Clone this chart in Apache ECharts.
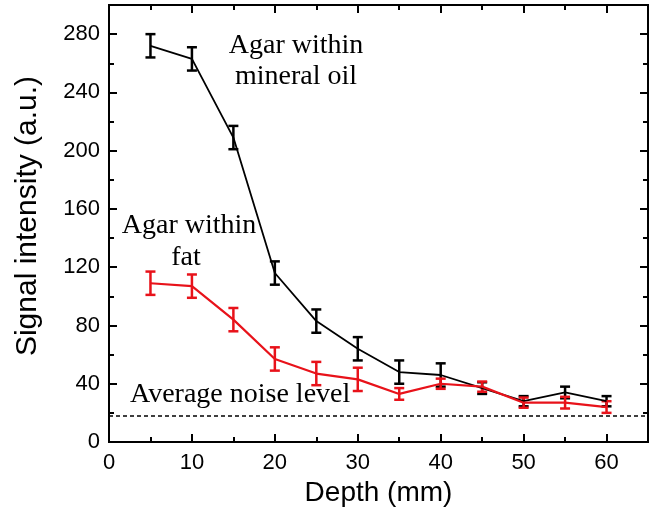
<!DOCTYPE html>
<html>
<head>
<meta charset="utf-8">
<script src="https://cdn.jsdelivr.net/npm/echarts@6/dist/echarts.min.js"></script>
<style>
  html, body { margin: 0; padding: 0; background: #fff; }
  #main { width: 655px; height: 512px; }
</style>
</head>
<body>
<div id="main"></div>
<script>
// depth (mm)
var depths = [5, 10, 15, 20, 25, 30, 35, 40, 45, 50, 55, 60];
// agar within mineral oil
var oilMean = [272, 263, 209, 116, 83, 64, 48, 46, 37, 28, 34, 28];
var oilErr = [8, 8, 8, 8, 8, 8, 8, 8, 4, 3.5, 4, 3.5];
// agar within fat
var fatMean = [109, 107, 84, 57, 47, 43, 33, 40, 38, 27, 27, 24];
var fatErr = [8, 8, 8, 8, 8, 8, 4, 3.5, 3.5, 3.5, 4, 4];
var noiseLevel = 18;

var RED = '#e8121a';
var SANS = 'Liberation Sans, Arial, sans-serif';
var SERIF = 'Liberation Serif, Times New Roman, serif';

function pairs(ys) {
    return depths.map(function (x, i) { return [x, ys[i]]; });
}

function errData(ys, errs) {
    return depths.map(function (x, i) { return [x, ys[i] - errs[i], ys[i] + errs[i]]; });
}

// error bar with caps
function renderErr(color) {
    return function (params, api) {
        var lo = api.coord([api.value(0), api.value(1)]);
        var hi = api.coord([api.value(0), api.value(2)]);
        var w = 5;
        var style = { stroke: color, lineWidth: 2.5 };
        return {
            type: 'group',
            children: [
                { type: 'line', shape: { x1: lo[0], y1: lo[1], x2: hi[0], y2: hi[1] }, style: style },
                { type: 'line', shape: { x1: lo[0] - w, y1: lo[1], x2: lo[0] + w, y2: lo[1] }, style: style },
                { type: 'line', shape: { x1: hi[0] - w, y1: hi[1], x2: hi[0] + w, y2: hi[1] }, style: style }
            ]
        };
    };
}

function xAx(pos, step, tickLen, labels) {
    return {
        type: 'value', position: pos, min: 0, max: 65, interval: step,
        axisLine: { show: true, onZero: false, lineStyle: { color: '#000', width: 2 } },
        axisTick: { show: true, inside: true, length: tickLen, lineStyle: { color: '#000', width: 2 } },
        axisLabel: { show: labels, showMaxLabel: false, margin: 10, color: '#000', fontSize: 22, fontFamily: SANS },
        splitLine: { show: false }
    };
}

function yAx(pos, step, tickLen, labels) {
    return {
        type: 'value', position: pos, min: 0, max: 300, interval: step,
        axisLine: { show: true, onZero: false, lineStyle: { color: '#000', width: 2 } },
        axisTick: { show: true, inside: true, length: tickLen, lineStyle: { color: '#000', width: 2 } },
        axisLabel: { show: labels, showMaxLabel: false, margin: 9, color: '#000', fontSize: 22, fontFamily: SANS },
        splitLine: { show: false }
    };
}

function note(text, x, y, align) {
    return {
        type: 'text', x: x, y: y,
        style: { text: text, textAlign: align || 'center', textVerticalAlign: 'middle', font: '28px ' + SERIF, fill: '#000' }
    };
}

var xMain = xAx('bottom', 10, 8, true);
xMain.name = 'Depth (mm)';
xMain.nameLocation = 'middle';
xMain.nameGap = 37;
xMain.nameTextStyle = { color: '#000', fontSize: 28, fontFamily: SANS };

var chart = echarts.init(document.getElementById('main'));
chart.setOption({
    animation: false,
    backgroundColor: '#fff',
    grid: { left: 109, right: 7, top: 5, bottom: 70, containLabel: false },
    xAxis: [xMain, xAx('bottom', 5, 5, false), xAx('top', 10, 8, false), xAx('top', 5, 5, false)],
    yAxis: [yAx('left', 40, 8, true), yAx('left', 20, 5, false), yAx('right', 40, 8, false), yAx('right', 20, 5, false)],
    graphic: [
        note('Agar within', 296, 46),
        note('mineral oil', 296, 77),
        note('Agar within', 189, 226),
        note('fat', 186, 258),
        note('Average noise level', 130, 395, 'left'),
        {
            type: 'text', x: 28, y: 216, rotation: Math.PI / 2,
            style: { text: 'Signal intensity (a.u.)', textAlign: 'center', textVerticalAlign: 'middle', font: '30px ' + SANS, fill: '#000' }
        }
    ],
    series: [
        {
            type: 'line', data: pairs(oilMean), symbol: 'none',
            lineStyle: { color: '#000', width: 1.8 },
            markLine: {
                silent: true, symbol: 'none', label: { show: false },
                lineStyle: { color: '#000', type: [4, 3], width: 1.5 },
                data: [{ yAxis: noiseLevel }]
            }
        },
        {
            type: 'custom', data: errData(oilMean, oilErr), renderItem: renderErr('#000'),
            encode: { x: 0, y: [1, 2] }, z: 3
        },
        {
            type: 'line', data: pairs(fatMean), symbol: 'none',
            lineStyle: { color: RED, width: 2.2 }
        },
        {
            type: 'custom', data: errData(fatMean, fatErr), renderItem: renderErr(RED),
            encode: { x: 0, y: [1, 2] }, z: 3
        }
    ]
});
</script>
</body>
</html>
